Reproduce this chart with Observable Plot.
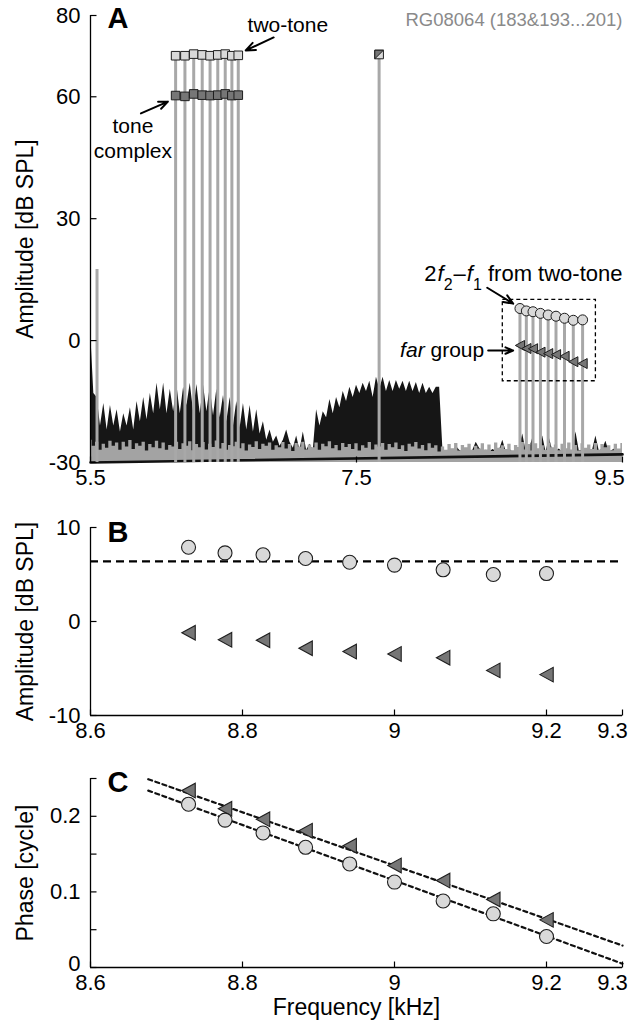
<!DOCTYPE html>
<html><head><meta charset="utf-8">
<script src="https://cdn.jsdelivr.net/npm/d3@7"></script>
<script src="https://cdn.jsdelivr.net/npm/@observablehq/plot@0.6"></script>
<style>
body{margin:0;background:#fff;}
#wrap{position:relative;width:630px;height:1031px;overflow:hidden;}
#wrap svg{position:absolute;left:0;}
</style></head><body><div id="wrap"></div>
<script>
// ---------- data ----------
const f1Freq = [6.140, 6.210, 6.276, 6.340, 6.399, 6.457, 6.513, 6.563, 6.611]; // kHz
const twoToneLevel = [70.1, 70.1, 70.5, 70.3, 70.1, 70.3, 70.5, 70.1, 70.2];   // dB SPL
const toneComplexLevel = [60.3, 60.1, 60.7, 60.4, 60.3, 60.4, 60.7, 60.3, 60.4];
const f2Freq = [7.67];
const f2Level = [70.4];
const spurFreq = [5.549];
const spurLevel = [17.5];
const dpFreq = [8.729, 8.777, 8.827, 8.883, 8.941, 9.0, 9.064, 9.13, 9.2];
const dpTwoToneAmp = [7.9, 7.3, 7.1, 6.7, 6.3, 6.0, 5.5, 5.0, 5.1];
const farGroupAmp = [-1.2, -1.95, -2.0, -2.85, -3.2, -3.45, -3.85, -5.2, -5.65];
const dpTwoTonePhase = [0.216, 0.195, 0.178, 0.159, 0.137, 0.113, 0.088, 0.071, 0.041];
const farGroupPhase = [0.234, 0.210, 0.196, 0.181, 0.161, 0.135, 0.115, 0.090, 0.063];
const refLevel = [6.4];
const fitFreq = [8.676, 9.3];
const fitTwoTonePhase = [0.234, 0.005];
const fitFarPhase = [0.249, 0.029];
const floorFreq = [5.5, 9.5];
const floorLevel = [-30, -28];
const zoomBoxFreq = [8.6, 9.3];
const zoomBoxAmp = [-10, 10];
// spectrum samples every 0.025 kHz from 5.5 kHz
const specStart = 5.5, specStep = 0.025;
const responseSpec = [
 3,-13,-14,-21,-15.5,-22,-16,-21,-17,-22.5,-18,-21,-16.5,-22,-15,-20,-14,-19.5,-13,-18,
 -10.5,-17,-10.5,-18,-12,-17.5,-11,-18,-11.5,-16,-10.5,-17.5,-10.8,-18,-11,-17.5,-11.5,-18.5,-12,-19,
 -13.5,-20,-14,-21,-15,-21.5,-15.5,-22,-16,-22.5,-17,-23,-20,-24.5,-22,-25,-23.5,-26,-24.5,-22,
 -25,-26.5,-23.5,-27,-22.5,-27,-25.5,-27,-17,-21,-17.5,-19,-14.5,-18,-14,-16.5,-12.5,-15,-11.5,-14,
 -11,-13,-10.5,-12.5,-10,-14,-9,-12,-9,-12.5,-9.8,-12.5,-9.8,-12,-10,-12.5,-10,-12.5,-10.3,-13,
 -10.5,-13,-11.5,-13,-11.5,-11.5,-27,-27.5,-27,-27.5,-26,-27,-27.5,-26.5,-27.8,-27,-25,-26.5,-27.5,-27,
 -27.5,-26.8,-27.2,-27,-24.5,-27.3,-26.6,-27.5,-27,-26.5,-23,-27.2,-26.8,-24,-27.1,-26.9,-23.5,-27.4,-24,-27,
 -27.3,-26.7,-27.5,-27,-26.8,-27.4,-22.5,-27.2,-27,-26.6,-27.3,-27,-23.5,-27.1,-26.8,-24.8,-27.4,-27,-26.5,-27.2,
 -27];
const noiseSpec = [
 -24.5,-26,-25,-27,-25.5,-26.5,-24.8,-26,-25.2,-27,-25,-26.2,-24.6,-26.8,-25.4,-26,-25,-27.2,-25.6,-26.4,
 -24.8,-26.6,-25.2,-27,-25.8,-26.2,-25,-26.8,-25.4,-26,-24.9,-27.1,-25.6,-26.4,-25.1,-26.9,-25.5,-26.3,-24.7,-26.7,
 -25.3,-27,-25.8,-26.1,-25,-26.6,-25.4,-27.2,-25.7,-26.3,-24.9,-26.8,-25.5,-26,-25.2,-27,-25.9,-26.4,-25.1,-26.7,
 -25.6,-27.3,-25.3,-26.2,-25,-26.9,-25.7,-26.4,-25.2,-27,-25.5,-26.1,-24.9,-26.6,-25.8,-27.1,-25.3,-26.3,-25.6,-26.8,
 -25.4,-27.2,-25.9,-26.5,-25.1,-26.9,-25.7,-26.2,-25.3,-27,-25.6,-26.4,-25.2,-26.8,-25.9,-27.3,-25.5,-26.2,-25.1,-26.7,
 -25.8,-27.1,-25.4,-26.5,-25.9,-27.4,-26.2,-27,-25.6,-26.6,-25.3,-27.2,-25.8,-26.4,-25.5,-27,-26,-26.7,-25.4,-26.9,
 -25.7,-27.3,-25.2,-26.5,-25.9,-26.8,-25.5,-27.1,-25.8,-26.3,-25.1,-26.9,-25.6,-27.2,-25.4,-26.6,-25.9,-27,-25.3,-26.4,
 -25.7,-27.1,-25.5,-26.6,-25.2,-26.9,-25.8,-27.2,-25.4,-26.5,-25.7,-26.8,-25.3,-27,-25.6,-26.4,-25.9,-27.1,-25.5,-26.7,
 -25.3];
// ticks
const aXTicks = [5.5, 7.5, 9.5];
const aYTicks = [80, 60, 30, 0, -30];
const bcXTicks = [8.6, 8.8, 9, 9.2, 9.3];
const bYTicks = [10, 0, -10];
const cYTicks = [0, 0.1, 0.2];
const cYMinor = [0.05, 0.15, 0.25];
// annotations (data coordinates of panel A)
const labelTwoTone = {t: "two-tone", x: 6.984, y: 77.8};
const labelToneComplex = {t: "tone\ncomplex", x: 5.819, y: 49.9};
const labelDP = {t: "2f2–f1 from two-tone", x: 9.5, y: 16.7};
const labelFar = {t: "far group", x: 8.46, y: -2.2};
const annoArrows = [
  {x1: 6.877, y1: 74.6, x2: 6.667, y2: 71.4},
  {x1: 5.879, y1: 55.9, x2: 6.082, y2: 58.8},
  {x1: 8.483, y1: 13.0, x2: 8.678, y2: 9.1},
  {x1: 8.49, y1: -2.46, x2: 8.678, y2: -2.46}
];

// ---------- tables ----------
const spec = responseSpec.map((v, i) => ({f: specStart + specStep * i, resp: v, noise: noiseSpec[i]}));
const prim = f1Freq.map((f, i) => ({f, tt: twoToneLevel[i], tc: toneComplexLevel[i]}));
const f2 = f2Freq.map((f, i) => ({f, y: f2Level[i]}));
const spur = spurFreq.map((f, i) => ({f, y: spurLevel[i]}));
const dp = dpFreq.map((f, i) => ({f, amp: dpTwoToneAmp[i], far: farGroupAmp[i], ph: dpTwoTonePhase[i], phFar: farGroupPhase[i]}));
const floor = floorFreq.map((f, i) => ({f, y: floorLevel[i]}));
const fitTT = fitFreq.map((f, i) => ({f, y: fitTwoTonePhase[i]}));
const fitFar = fitFreq.map((f, i) => ({f, y: fitFarPhase[i]}));

// ---------- symbols ----------
const rOf = s => Math.sqrt(s / Math.PI);
const sqSym = {draw(c, s){const r = rOf(s); c.moveTo(-r,-r); c.lineTo(r,-r); c.lineTo(r,r); c.lineTo(-r,r); c.closePath();}};
const halfSym = {draw(c, s){const r = rOf(s); c.moveTo(-r,-r); c.lineTo(r,-r); c.lineTo(-r,r); c.closePath();}};
const triLeft = {draw(c, s){const r = rOf(s); c.moveTo(-r*0.92,0); c.lineTo(r*0.92,-r); c.lineTo(r*0.92,r); c.closePath();}};
const hTick = {draw(c, s){c.moveTo(0,0); c.lineTo(6,0);}};
const vTick = {draw(c, s){c.moveTo(0,0); c.lineTo(0,-6);}};

const FONT = "'Liberation Sans', Arial, Helvetica, sans-serif";
const LIGHT = "#d9d9d9", DARK = "#767676", STEM = "#a8a8a8", EDGE = "#1e1e1e";
const baseStyle = {fontFamily: FONT, fontSize: "22px", color: "black", background: "transparent", overflow: "visible"};

function axes(xt, yt, fmtY) {
  return [
    Plot.axisY({ticks: yt, tickSize: 0, tickPadding: 10, tickFormat: fmtY || (d => String(d)), label: null}),
    Plot.axisX({ticks: xt, tickSize: 0, tickPadding: 7, tickFormat: d => String(d), label: null}),
    Plot.dot(yt, {y: d => d, frameAnchor: "left", symbol: hTick, stroke: "black", strokeWidth: 1.2, r: 3}),
    Plot.dot(xt, {x: d => d, frameAnchor: "bottom", symbol: vTick, stroke: "black", strokeWidth: 1.2, r: 3})
  ];
}
const yLabel = (t) => Plot.text([t], {frameAnchor: "left", dx: -65, text: d => d, rotate: -90, textAnchor: "middle", lineAnchor: "middle", fontSize: 23});
const anno = (o, anchor, size) => Plot.text([o], {x: "x", y: "y", text: "t", textAnchor: anchor, fontSize: size || 21, lineHeight: 1.15, fill: "black"});

// ---------- Panel A ----------
const A = Plot.plot({
  width: 630, height: 500, marginLeft: 90, marginRight: 8, marginTop: 15, marginBottom: 38,
  style: baseStyle,
  x: {domain: [5.5, 9.5]},
  y: {domain: [-30, 80]},
  marks: [
    Plot.areaY(spec, {x: "f", y1: -30, y2: "resp", fill: "#161616", curve: "linear"}),
    Plot.areaY(spec, {x: "f", y1: -30, y2: "noise", fill: "#a3a3a3", curve: "step"}),
    Plot.line(floor, {x: "f", y: "y", stroke: "#111", strokeWidth: 2.6}),
    Plot.ruleX(spur, {x: "f", y1: -30, y2: "y", stroke: STEM, strokeWidth: 3}),
    Plot.ruleX(prim, {x: "f", y1: -30, y2: "tt", stroke: STEM, strokeWidth: 3}),
    Plot.ruleX(f2, {x: "f", y1: -30, y2: "y", stroke: STEM, strokeWidth: 3}),
    Plot.ruleX(dp, {x: "f", y1: -30, y2: "amp", stroke: STEM, strokeWidth: 3}),
    Plot.dot(prim, {x: "f", y: "tt", symbol: sqSym, r: 4.3, fill: LIGHT, stroke: EDGE, strokeWidth: 1}),
    Plot.dot(prim, {x: "f", y: "tc", symbol: sqSym, r: 4.3, fill: DARK, stroke: EDGE, strokeWidth: 1}),
    Plot.dot(f2, {x: "f", y: "y", symbol: sqSym, r: 4.3, fill: LIGHT, stroke: EDGE, strokeWidth: 1}),
    Plot.dot(f2, {x: "f", y: "y", symbol: halfSym, r: 4.3, fill: DARK, stroke: EDGE, strokeWidth: 1}),
    Plot.dot(dp, {x: "f", y: "amp", r: 5, fill: LIGHT, stroke: EDGE, strokeWidth: 1}),
    Plot.dot(dp, {x: "f", y: "far", symbol: triLeft, r: 5, fill: DARK, stroke: EDGE, strokeWidth: 1}),
    Plot.rect([0], {x1: zoomBoxFreq[0], x2: zoomBoxFreq[1], y1: zoomBoxAmp[0], y2: zoomBoxAmp[1], fill: "none", stroke: "black", strokeWidth: 1.3, strokeDasharray: "4,3"}),
    Plot.ruleX([5.5], {stroke: "black", strokeWidth: 1.3}),
    ...axes(aXTicks, aYTicks),
    anno(labelTwoTone, "middle"),
    anno(labelToneComplex, "middle"),
    anno(labelDP, "end", 22),
    anno(labelFar, "end"),
    Plot.arrow(annoArrows, {x1: "x1", y1: "y1", x2: "x2", y2: "y2", stroke: "black", strokeWidth: 2, headLength: 9, headAngle: 45}),
    Plot.text(["RG08064 (183&193...201)"], {frameAnchor: "top-right", dy: 5, text: d => d, fill: "#8a8a8a", fontSize: 18.5, lineAnchor: "middle"}),
    Plot.text(["A"], {frameAnchor: "top-left", dx: 17, dy: 3, text: d => d, textAnchor: "start", lineAnchor: "middle", fontWeight: "bold", fontSize: 29}),
    yLabel("Amplitude [dB SPL]")
  ]
});

// ---------- Panel B ----------
const B = Plot.plot({
  width: 630, height: 250, marginLeft: 90, marginRight: 8, marginTop: 27, marginBottom: 35,
  style: baseStyle,
  x: {domain: [8.6, 9.3]},
  y: {domain: [-10, 10]},
  marks: [
    Plot.ruleY(refLevel, {stroke: "black", strokeWidth: 2.2, strokeDasharray: "8,5"}),
    Plot.dot(dp, {x: "f", y: "amp", r: 7, fill: LIGHT, stroke: EDGE, strokeWidth: 1.1}),
    Plot.dot(dp, {x: "f", y: "far", symbol: triLeft, r: 7.3, fill: DARK, stroke: EDGE, strokeWidth: 1.1}),
    Plot.ruleX([8.6], {stroke: "black", strokeWidth: 1.3}),
    Plot.ruleY([-10], {stroke: "black", strokeWidth: 1.3}),
    ...axes(bcXTicks, bYTicks),
    Plot.text(["B"], {frameAnchor: "top-left", dx: 17, dy: 5, text: d => d, textAnchor: "start", lineAnchor: "middle", fontWeight: "bold", fontSize: 29}),
    yLabel("Amplitude [dB SPL]")
  ]
});

// ---------- Panel C ----------
const C = Plot.plot({
  width: 630, height: 281, marginLeft: 90, marginRight: 8, marginTop: 28, marginBottom: 64,
  style: baseStyle,
  x: {domain: [8.6, 9.3]},
  y: {domain: [0, 0.25]},
  marks: [
    Plot.line(fitFar, {x: "f", y: "y", stroke: "#111", strokeWidth: 2.2, strokeDasharray: "4,3.5"}),
    Plot.line(fitTT, {x: "f", y: "y", stroke: "#111", strokeWidth: 2.2, strokeDasharray: "4,3.5"}),
    Plot.dot(dp, {x: "f", y: "phFar", symbol: triLeft, r: 7.3, fill: DARK, stroke: EDGE, strokeWidth: 1.1}),
    Plot.dot(dp, {x: "f", y: "ph", r: 7, fill: LIGHT, stroke: EDGE, strokeWidth: 1.1}),
    Plot.ruleX([8.6], {stroke: "black", strokeWidth: 1.3}),
    Plot.ruleY([0], {stroke: "black", strokeWidth: 1.3}),
    ...axes(bcXTicks, cYTicks),
    Plot.dot(cYMinor, {y: d => d, frameAnchor: "left", symbol: hTick, stroke: "black", strokeWidth: 1.2, r: 3}),
    Plot.text(["C"], {frameAnchor: "top-left", dx: 17, dy: 4, text: d => d, textAnchor: "start", lineAnchor: "middle", fontWeight: "bold", fontSize: 29}),
    yLabel("Phase [cycle]"),
    Plot.text(["Frequency [kHz]"], {frameAnchor: "bottom", dy: 47, text: d => d, fontSize: 23})
  ]
});

const wrap = document.getElementById("wrap");
[[A, 0], [B, 500], [C, 750]].forEach(([svg, top]) => { svg.style.top = top + "px"; wrap.appendChild(svg); });

// keep right-most tick labels inside the figure
[[A, "9.5", -13], [B, "9.3", -10], [C, "9.3", -10]].forEach(([svg, t, dx]) => {
  d3.select(svg).selectAll("g[aria-label='x-axis tick label'] text").filter(function() { return this.textContent === t; }).attr("dx", dx);
});
// lift the bottom y label of panel C a little (as in the reference)
d3.select(C).selectAll("g[aria-label='y-axis tick label'] text").filter(function() { return this.textContent === "0"; }).attr("dy", -4);

// rich text (italic f, subscripts)
d3.select(A).selectAll("text").each(function() {
  const el = d3.select(this);
  const txt = this.textContent;
  if (txt === "2f2–f1 from two-tone") {
    el.text(null);
    el.append("tspan").text("2");
    el.append("tspan").attr("font-style", "italic").attr("dx", 1).text("f");
    el.append("tspan").attr("baseline-shift", "sub").attr("font-size", "16").text("2");
    el.append("tspan").attr("dx", 1).text("–");
    el.append("tspan").attr("font-style", "italic").attr("dx", 1).text("f");
    el.append("tspan").attr("baseline-shift", "sub").attr("font-size", "16").text("1");
    el.append("tspan").text(" from two-tone");
  } else if (txt === "far group") {
    el.text(null);
    el.append("tspan").attr("font-style", "italic").text("far");
    el.append("tspan").text(" group");
  }
});
</script></body></html>
